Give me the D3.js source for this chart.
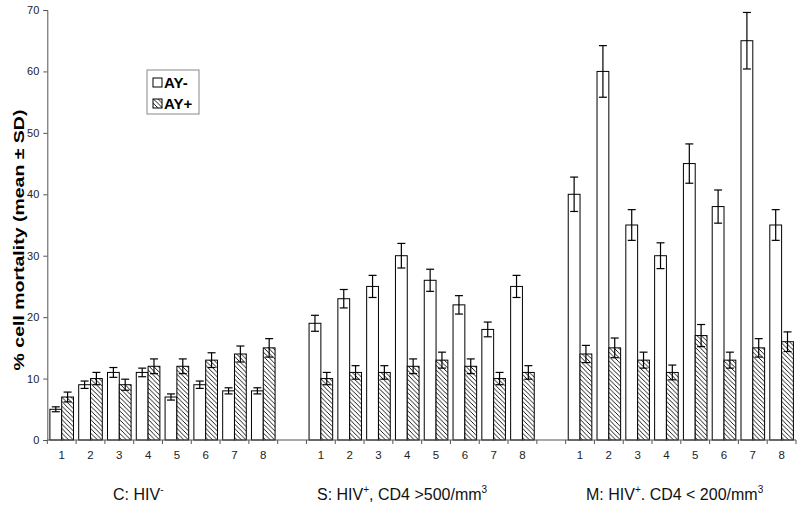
<!DOCTYPE html>
<html><head><meta charset="utf-8">
<script src="https://cdn.jsdelivr.net/npm/d3@7"></script>
<style>
body{margin:0;background:#fff;}
svg{display:block;font-family:"Liberation Sans",Arial,sans-serif;}
</style></head>
<body><svg id="chart" width="800" height="507"></svg>
<script>
// ---- data ----
const slotLabels = ["1","2","3","4","5","6","7","8"];
const groupKeys = ["C","S","M"];
const ayMinus = [5,9,11,11,7,9,8,8, 19,23,25,30,26,22,18,25, 40,60,35,30,45,38,65,35];
const ayMinusSD = [0.4,0.6,0.8,0.7,0.5,0.6,0.5,0.5, 1.3,1.5,1.8,2,1.8,1.5,1.2,1.8, 2.8,4.2,2.5,2.1,3.2,2.7,4.6,2.5];
const ayPlus = [7,10,9,12,12,13,14,15, 10,11,11,12,13,12,10,11, 14,15,13,11,17,13,15,16];
const ayPlusSD = [0.8,1,0.9,1.2,1.2,1.2,1.3,1.5, 1,1.1,1.1,1.2,1.3,1.2,1,1.1, 1.4,1.6,1.3,1.2,1.8,1.3,1.5,1.6];
const seriesNames = ["AY-","AY+"];
const yTicks = [0,10,20,30,40,50,60,70];
const groupTitles = [
  [["C: HIV",0],["-",1]],
  [["S: HIV",0],["+",1],[", CD4 >500/mm",0],["3",1]],
  [["M: HIV",0],["+",1],[". CD4 < 200/mm",0],["3",1]]
];
// layout: left edge of each group title
const titleX = [113, 317, 586];

// ---- build slots: 8 per group, blank slot between groups ----
const slots = [];
const items = [];
groupKeys.forEach((g,gi)=>{
  slotLabels.forEach((l,li)=>{
    const key = g+l;
    slots.push(key);
    const i = gi*8+li;
    items.push({key, label:l, values:[
      {s:seriesNames[0], v:ayMinus[i], sd:ayMinusSD[i]},
      {s:seriesNames[1], v:ayPlus[i], sd:ayPlusSD[i]}]});
  });
  if(gi<groupKeys.length-1) slots.push("gap"+gi);
});

const svg = d3.select("#chart");
const x = d3.scaleBand().domain(slots).range([47.3, 796]).paddingInner(0).paddingOuter(0);
const y = d3.scaleLinear().domain([0,70]).range([440,10]);
const xs = d3.scaleBand().domain(seriesNames).range([0, x.bandwidth()]).paddingOuter(0.22).paddingInner(0);

// hatch pattern
const defs = svg.append("defs");
const pw = 4.5;
const pat = defs.append("pattern").attr("id","hatch").attr("patternUnits","userSpaceOnUse")
  .attr("width",pw).attr("height",pw);
pat.append("rect").attr("width",pw).attr("height",pw).attr("fill","#fff");
pat.append("path").attr("d",`M-1,-1 L${pw+1},${pw+1} M-1,${pw-1} L1,${pw+1} M${pw-1},-1 L${pw+1},1`)
  .attr("stroke","#000").attr("stroke-width",0.9);

// y axis
const yAxis = svg.append("g").attr("transform","translate(47.3,0)")
  .call(d3.axisLeft(y).tickValues(yTicks).tickSize(4).tickPadding(4));
yAxis.select(".domain").attr("stroke","#555");
yAxis.selectAll(".tick line").attr("stroke","#555");
yAxis.selectAll("text").attr("font-size",11).attr("fill","#222");

// y title
svg.append("text").attr("transform","translate(24,240) scale(0.75,1) rotate(-90)")
  .attr("text-anchor","middle").attr("font-size",19.5).attr("font-weight","bold")
  .text("% cell mortality (mean \u00B1 SD)");

// bars
const cat = svg.append("g").selectAll("g").data(items).join("g")
  .attr("transform",d=>`translate(${x(d.key)},0)`);
cat.selectAll("rect").data(d=>d.values).join("rect")
  .attr("x",d=>xs(d.s)).attr("width",xs.bandwidth())
  .attr("y",d=>y(d.v)).attr("height",d=>y(0)-y(d.v))
  .attr("fill",(d,i)=>i===0?"#fff":"url(#hatch)")
  .attr("stroke","#000").attr("stroke-width",1);
// error bars
const eb = cat.selectAll("g.eb").data(d=>d.values).join("g").attr("class","eb");
const capW = 8;
const cx = d=>xs(d.s)+xs.bandwidth()/2;
eb.append("line").attr("x1",cx).attr("x2",cx)
  .attr("y1",d=>y(d.v-d.sd)).attr("y2",d=>y(d.v+d.sd)).attr("stroke","#000").attr("stroke-width",1.2);
eb.append("line").attr("x1",d=>cx(d)-capW/2).attr("x2",d=>cx(d)+capW/2)
  .attr("y1",d=>y(d.v+d.sd)).attr("y2",d=>y(d.v+d.sd)).attr("stroke","#000").attr("stroke-width",1.2);
eb.append("line").attr("x1",d=>cx(d)-capW/2).attr("x2",d=>cx(d)+capW/2)
  .attr("y1",d=>y(d.v-d.sd)).attr("y2",d=>y(d.v-d.sd)).attr("stroke","#000").attr("stroke-width",1.2);

// x axis
const xg = svg.append("g");
xg.append("line").attr("x1",x.range()[0]).attr("x2",x.range()[1]).attr("y1",y(0)).attr("y2",y(0))
  .attr("stroke","#555");
const bounds = slots.map(s=>x(s)).concat([x.range()[1]]);
xg.selectAll("line.tk").data(bounds).join("line").attr("class","tk")
  .attr("x1",d=>d).attr("x2",d=>d).attr("y1",y(0)).attr("y2",y(0)+4).attr("stroke","#555");
xg.selectAll("text").data(items).join("text")
  .attr("x",d=>x(d.key)+x.bandwidth()/2).attr("y",459)
  .attr("text-anchor","middle").attr("font-size",11.5).attr("fill","#222")
  .text(d=>d.label);

// group titles
groupKeys.forEach((g,gi)=>{
  const t = svg.append("text").attr("x",titleX[gi]).attr("y",500).attr("text-anchor","start")
    .attr("font-size",16).attr("fill","#111");
  groupTitles[gi].forEach(([txt,sup],i)=>{
    const prev = i>0 ? groupTitles[gi][i-1][1] : 0;
    const ts = t.append("tspan").text(txt)
      .attr("dy", sup && !prev ? -7 : (!sup && prev ? 7 : 0));
    if(sup) ts.attr("font-size",10);
  });
});

// legend
const lg = svg.append("g").attr("transform","translate(147,70)");
lg.append("rect").attr("width",52).attr("height",44).attr("fill","#fff").attr("stroke","#888");
seriesNames.forEach((s,i)=>{
  const yy = 12 + i*21;
  lg.append("rect").attr("x",6).attr("y",yy-4).attr("width",9).attr("height",9)
    .attr("fill",i===0?"#fff":"url(#hatch)").attr("stroke","#000");
  lg.append("text").attr("x",17).attr("y",yy+5.5).attr("font-size",15).attr("font-weight","bold").text(s);
});
</script></body></html>
